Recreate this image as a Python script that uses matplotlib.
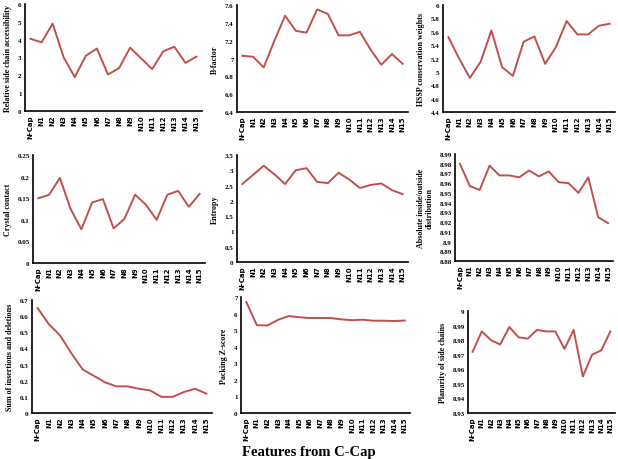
import matplotlib
matplotlib.use("Agg")
import matplotlib.pyplot as plt
import numpy as np

categories = ["N-Cap"] + [f"N{i}" for i in range(1, 16)]

rel_access = [4.05, 3.85, 4.9, 3.0, 1.9, 3.1, 3.5, 2.05, 2.4, 3.55, 2.95, 2.35, 3.35, 3.6, 2.7, 3.05]
b_factor = [7.03, 7.02, 6.9, 7.2, 7.48, 7.31, 7.29, 7.55, 7.5, 7.26, 7.26, 7.3, 7.1, 6.93, 7.05, 6.94]
hssp = [5.52, 5.2, 4.91, 5.15, 5.62, 5.07, 4.94, 5.45, 5.53, 5.12, 5.37, 5.76, 5.56, 5.56, 5.69, 5.72]
crystal = [0.15, 0.158, 0.197, 0.125, 0.078, 0.14, 0.148, 0.08, 0.102, 0.158, 0.135, 0.1, 0.158, 0.167, 0.13, 0.16]
entropy = [2.55, 2.85, 3.15, 2.87, 2.55, 3.0, 3.07, 2.62, 2.58, 2.92, 2.7, 2.42, 2.52, 2.57, 2.35, 2.22]
inout = [8.98, 8.957, 8.953, 8.978, 8.968, 8.968, 8.966, 8.973, 8.967, 8.972, 8.961, 8.960, 8.950, 8.966, 8.925, 8.919]
indels = [0.65, 0.55, 0.48, 0.37, 0.27, 0.23, 0.19, 0.165, 0.165, 0.15, 0.14, 0.10, 0.10, 0.13, 0.15, 0.12]
packing = [6.7, 5.3, 5.28, 5.62, 5.85, 5.78, 5.73, 5.73, 5.73, 5.65, 5.6, 5.63, 5.57, 5.57, 5.55, 5.58]
planarity = [8.972, 8.986, 8.98, 8.977, 8.989, 8.982, 8.981, 8.987, 8.986, 8.986, 8.974, 8.987, 8.955, 8.970, 8.973, 8.986]

ytick_sets = [
    ([0, 1, 2, 3, 4, 5, 6], ["0", "1", "2", "3", "4", "5", "6"]),
    ([6.4, 6.6, 6.8, 7.0, 7.2, 7.4, 7.6], ["6.4", "6.6", "6.8", "7", "7.2", "7.4", "7.6"]),
    ([4.4, 4.6, 4.8, 5.0, 5.2, 5.4, 5.6, 5.8, 6.0], ["4.4", "4.6", "4.8", "5", "5.2", "5.4", "5.6", "5.8", "6"]),
    ([0, 0.05, 0.1, 0.15, 0.2, 0.25], ["0", "0.05", "0.1", "0.15", "0.2", "0.25"]),
    ([0, 0.5, 1, 1.5, 2, 2.5, 3, 3.5], ["0", "0.5", "1", "1.5", "2", "2.5", "3", "3.5"]),
    ([8.88 + 0.01 * i for i in range(12)], ["8.88", "8.89", "8.9", "8.91", "8.92", "8.93", "8.94", "8.95", "8.96", "8.97", "8.98", "8.99"]),
    ([0, 0.1, 0.2, 0.3, 0.4, 0.5, 0.6, 0.7], ["0", "0.1", "0.2", "0.3", "0.4", "0.5", "0.6", "0.7"]),
    ([0, 1, 2, 3, 4, 5, 6, 7], ["0", "1", "2", "3", "4", "5", "6", "7"]),
    ([8.93 + 0.01 * i for i in range(8)], ["8.93", "8.94", "8.95", "8.96", "8.97", "8.98", "8.99", "9"]),
]

series = [rel_access, b_factor, hssp, crystal, entropy, inout, indels, packing, planarity]
ylabels = ["Relative side chain accessibility", "B-factor", "HSSP conservation weights",
           "Crystal contact", "Entropy", "Absolute inside/outside\ndistribution",
           "Sum of insertions and deletions", "Packing Z-score", "Planarity of side chains"]

# pixel boxes: left, right, top, bottom
boxes = [
    (25, 202, 5, 112), (237, 408, 6, 113), (443, 615, 6, 113),
    (33, 205, 156, 264), (237, 408, 156, 263), (455, 613, 155, 262),
    (32, 212, 301, 414), (241, 410, 298, 414), (468, 615, 312, 414),
]

W, H = 618, 460
fig = plt.figure(figsize=(W / 100, H / 100), dpi=100)
color = "#C0504D"
x = np.arange(len(categories))

for vals, (ticks, tlabels), lab, (l, r, t, b) in zip(series, ytick_sets, ylabels, boxes):
    ax = fig.add_axes([l / W, 1 - b / H, (r - l) / W, (b - t) / H])
    ax.plot(x, vals, color=color, lw=1.4)
    ax.set_xlim(-0.5, 15.5)
    ax.set_ylim(ticks[0], ticks[-1])
    ax.set_yticks(ticks)
    ax.set_yticklabels(tlabels, fontsize=5, fontweight="bold", family="Liberation Serif")
    ax.set_xticks(x)
    ax.set_xticklabels(categories, rotation=90, fontsize=5, fontweight="bold")
    ax.tick_params(length=0, pad=2.5)
    for s in ["top", "right"]:
        ax.spines[s].set_visible(False)
    for s in ["left", "bottom"]:
        ax.spines[s].set_linewidth(1.2)
        ax.spines[s].set_color("black")
    ax.set_ylabel(lab, fontsize=5.8, fontweight="bold", family="Liberation Serif", labelpad=4)

fig.text(0.5, 1 - 453 / H, "Features from C-Cap", ha="center", va="center",
         fontsize=10.5, fontweight="bold", family="Liberation Serif")

fig.savefig("out.png", dpi=100)
